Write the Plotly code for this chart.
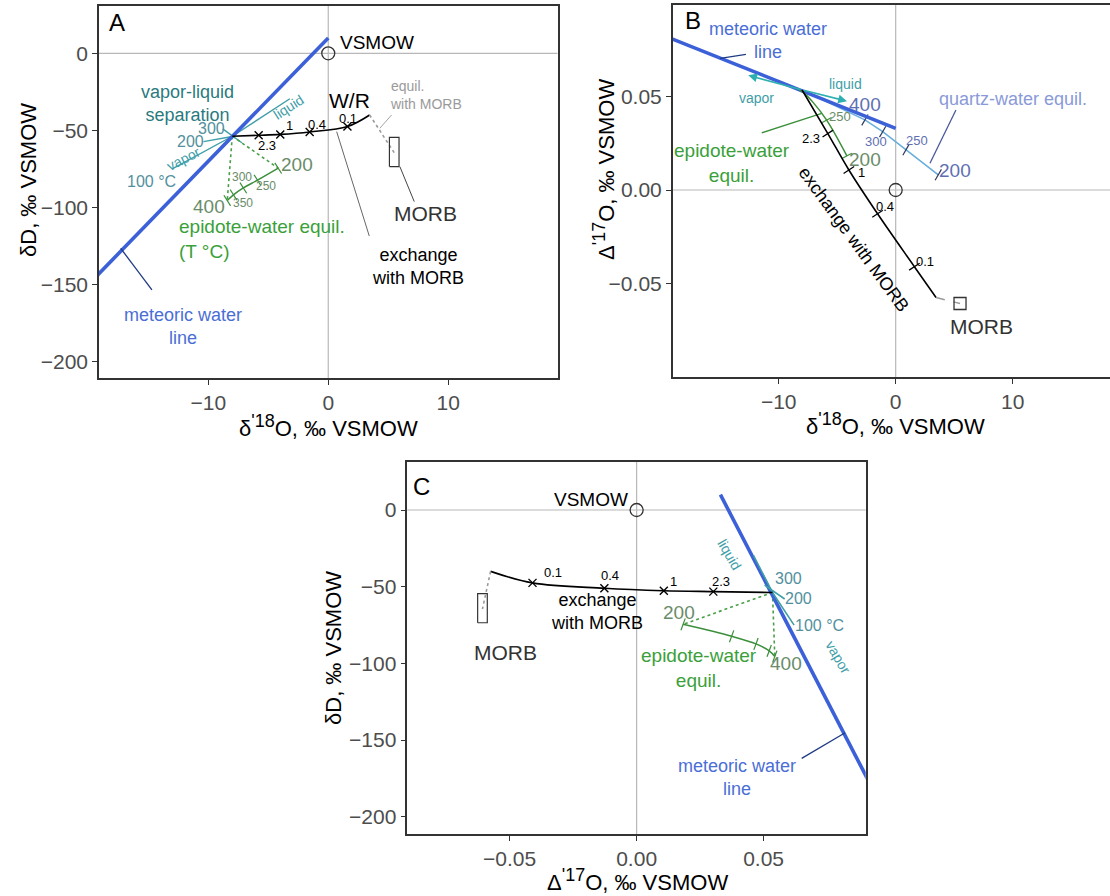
import plotly.graph_objects as go

# ---------------- data ----------------
# meteoric water line end members (δ'18O, δD, Δ'17O)
mwl_d18O = [-25.0, 0.0]
mwl_dD = [-190.0, 10.0]
mwl_D17O = [0.0955, 0.033]

# VSMOW
vsmow_d18O = [0.0]
vsmow_dD = [0.0]
vsmow_D17O = [0.0]

# exchange with MORB: starting meteoric water, W/R marks, end of path
wr_labels = ["2.3", "1", "0.4", "0.1"]
exch_d18O = [-8.0, -5.8, -4.0, -1.55, 1.6, 3.45]
exch_dD = [-53.8, -53.2, -52.6, -51.0, -47.5, -40.0]
exch_D17O = [0.0535, 0.0302, 0.0107, -0.0127, -0.041, -0.0575]

# MORB
morb_d18O = [5.5]
morb_dD = [-64.5]
morb_D17O = [-0.0607]
morb_d18O_range = [5.1, 5.9]
morb_dD_range = [-73.5, -54.5]
morb_D17O_range = [-0.0626, -0.0588]

# epidote-water equilibrium (T °C)
epi_T = [400, 350, 300, 250, 200]
epi_d18O = [-8.42, -7.9, -7.08, -5.9, -4.17]
epi_dD = [-95.5, -91.8, -87.3, -82.3, -74.5]
epi_D17O = [0.0544, 0.0522, 0.047, 0.0374, 0.0183]

# quartz-water equilibrium (T °C)
qtz_T = [400, 300, 250, 200]
qtz_d18O = [-2.63, -1.11, 0.88, 3.64]
qtz_D17O = [0.0375, 0.0312, 0.0215, 0.0081]

# vapor-liquid separation end members
liq_d18O, liq_dD, liq_D17O = -3.2, -29.5, 0.046
vap_d18O, vap_dD, vap_D17O = -13.0, -75.0, 0.062
sep300_d18O = [-8.8, -7.2]
sep300_dD = [-49.0, -58.0]
sep300_D17O = [0.0504, 0.0583]
sep200_d18O = [-10.4, -8.0]
sep200_dD = [-57.3, -54.0]

# axis ticks
dD_ticks = [0, -50, -100, -150, -200]
dD_ticktext = ["0", "\u221250", "\u2212100", "\u2212150", "\u2212200"]
d18O_ticks = [-10, 0, 10]
d18O_ticktext = ["\u221210", "0", "10"]
D17O_ticks_B = [-0.05, 0.0, 0.05]
D17O_ticktext_B = ["\u22120.05", "0.00", "0.05"]
D17O_ticks_C = [-0.05, 0.0, 0.05]
D17O_ticktext_C = ["\u22120.05", "0.00", "0.05"]

# ---------------- styling ----------------
W, H = 1110, 896
FONT = "Liberation Sans, Arial, sans-serif"
MWL_BLUE = "#3b60d8"
MWL_TEXT = "#4a6ed6"
NAVY = "#1e3a82"
TEAL = "#3f9ea8"
TEAL_TEXT = "#2a7a80"
TEAL_NUM = "#52909e"
GREEN = "#3b8f3b"
GREEN_TEXT = "#3aa03a"
GREEN_NUM = "#6a8c6a"
QTZ = "#6aaedc"
QTZ_TEXT = "#8a9ad8"
QTZ_NUM = "#5f70b2"
GRAY = "#9a9a9a"
ZERO = "#b8b8b8"
AX = "#333333"

fig = go.Figure()


def line(x, y, ax, color, width=1.2, dash=None, shape="linear"):
    fig.add_trace(go.Scatter(
        x=x, y=y, mode="lines", xaxis=ax[0], yaxis=ax[1],
        line=dict(color=color, width=width, dash=dash, shape=shape),
        hoverinfo="skip", showlegend=False))


def marks(x, y, ax, symbol, color, size=9, width=1.3, angle=0):
    fig.add_trace(go.Scatter(
        x=x, y=y, mode="markers", xaxis=ax[0], yaxis=ax[1],
        marker=dict(symbol=symbol, size=size, angle=angle, color=color,
                    line=dict(color=color, width=width)),
        hoverinfo="skip", showlegend=False))


def label(text, x, y, ax, size=14, color="black", angle=0, xanchor="center",
          align="center"):
    fig.add_annotation(x=x, y=y, xref=ax[0], yref=ax[1], text=text,
                       showarrow=False, textangle=angle, xanchor=xanchor,
                       align=align, font=dict(family=FONT, size=size, color=color))


A = ("x", "y")
B = ("x2", "y2")
C = ("x3", "y3")

# zero reference lines
for ax, xr, yr in [(A, (-19.2, 19.2), (-215, 35)), (B, (-19.2, 19), (-0.11, 0.11)),
                   (C, (-0.1, 0.1), (-215, 35))]:
    line([0, 0], list(yr), ax, ZERO, 1.2)
    line(list(xr), [0, 0], ax, ZERO, 1.2)

# ================= panel A: δ'18O vs δD =================
start_A = (exch_d18O[0], exch_dD[0])
# vapor-liquid separation
line([start_A[0], liq_d18O], [start_A[1], liq_dD], A, TEAL, 1.4)
line([start_A[0], vap_d18O], [start_A[1], vap_dD], A, TEAL, 1.4)
line(sep300_d18O, sep300_dD, A, TEAL, 1.4)
line(sep200_d18O, sep200_dD, A, TEAL, 1.4)
# epidote-water
line([start_A[0], epi_d18O[0]], [start_A[1], epi_dD[0]], A, "#4aa04a", 1.6, "dot")
line([start_A[0], epi_d18O[-1]], [start_A[1], epi_dD[-1]], A, "#4aa04a", 1.6, "dot")
line(epi_d18O, epi_dD, A, GREEN, 1.5, shape="spline")
marks(epi_d18O, epi_dD, A, "line-ns", GREEN, 9, 1.2, -32)
# meteoric water line
line(mwl_d18O, mwl_dD, A, MWL_BLUE, 3.6)
line([-17.3, -14.7], [-126.5, -153.5], A, NAVY, 1.3)
# exchange with MORB
line(exch_d18O, exch_dD, A, "black", 1.6, shape="spline")
marks(exch_d18O[1:5], exch_dD[1:5], A, "x-thin", "black", 8, 1.4)
line([exch_d18O[-1], morb_d18O[0]], [exch_dD[-1], morb_dD[0]], A, GRAY, 1.6, "dot")
line([morb_d18O_range[0], morb_d18O_range[1], morb_d18O_range[1], morb_d18O_range[0],
      morb_d18O_range[0]],
     [morb_dD_range[0], morb_dD_range[0], morb_dD_range[1], morb_dD_range[1],
      morb_dD_range[0]], A, AX, 1.2)
line([5.97, 7.17], [-73.5, -96.2], A, "#444444", 1.0)
line([0.7, 3.42], [-50.8, -118.5], A, "#555555", 0.9)
line([5.28, 4.3], [-40.0, -48.6], A, GRAY, 0.9)
marks(vsmow_d18O, vsmow_dD, A, "circle-open", AX, 13, 1.3)

label("A", -17.6, 20.3, A, 24)
label("VSMOW", 0.83, 7.1, A, 19, xanchor="left")
label("vapor-liquid<br>separation", -11.7, -32.4, A, 18, TEAL_TEXT)
label("liquid", -3.3, -34.6, A, 14, TEAL, -33)
label("vapor", -12.1, -68.7, A, 14, TEAL, -27)
label("300", -9.7, -48.6, A, 16, TEAL_NUM)
label("200", -11.5, -57.3, A, 16, TEAL_NUM)
label("100 \u00b0C", -14.7, -83.3, A, 16, TEAL_NUM)
label("W/R", 1.8, -30.3, A, 21)
for t, x, y in zip(wr_labels, [-5.1, -3.2, -0.9, 1.67], [-59.9, -47.0, -46.0, -42.2]):
    label(t, x, y, A, 13)
label("equil.<br>with MORB", 5.0, -27.2, A, 14, GRAY, xanchor="left", align="left")
label("MORB", 8.1, -104.2, A, 21, AX)
label("exchange<br>with MORB", 7.5, -138.6, A, 18)
label("200", -2.6, -72.4, A, 19, GREEN_NUM)
label("400", -9.9, -99.5, A, 19, GREEN_NUM)
label("300", -7.2, -80.4, A, 12, GREEN_NUM)
label("250", -5.2, -85.9, A, 12, GREEN_NUM)
label("350", -7.1, -97.3, A, 12, GREEN_NUM)
label("epidote-water equil.<br>(T \u00b0C)", -12.6, -120.3, A, 19, GREEN_TEXT,
      xanchor="left", align="left")
label("meteoric water<br>line", -12.1, -177.0, A, 18, MWL_TEXT)

# ================= panel B: δ'18O vs Δ'17O =================
start_B = (exch_d18O[0], exch_D17O[0])
line([start_B[0]] + qtz_d18O, [start_B[1]] + qtz_D17O, B, QTZ, 1.6)
marks(qtz_d18O, qtz_D17O, B, "line-ns", "#2c3a60", 9, 1.2, 30)
line(mwl_d18O, mwl_D17O, B, MWL_BLUE, 3.6)
line([-15.0, -12.8], [0.0704, 0.0725], B, NAVY, 1.3)
line(epi_d18O, epi_D17O, B, GREEN, 1.5, shape="spline")
marks(epi_d18O[3:], epi_D17O[3:], B, "line-ns", GREEN, 8, 1.2, 62)
line([-11.45, -6.32], [0.0306, 0.041], B, GREEN, 1.3)
line(exch_d18O, exch_D17O, B, "black", 1.6, shape="spline")
marks(exch_d18O[1:5], exch_D17O[1:5], B, "line-ew", "black", 9, 1.3, -33)
line([exch_d18O[-1], morb_d18O[0]], [exch_D17O[-1], morb_D17O[0]], B, GRAY, 1.4, "dash")
marks(morb_d18O, morb_D17O, B, "square-open", AX, 12, 1.3)
marks(vsmow_d18O, vsmow_D17O, B, "circle-open", AX, 13, 1.3)
line([5.15, 2.93], [0.0428, 0.0143], B, "#4a5a9a", 1.3)
# direction arrows toward the liquid and vapor end members
for end, frac in [((liq_d18O, liq_D17O), 0.8), ((vap_d18O, vap_D17O), 0.92)]:
    tip_x = start_B[0] + frac * (end[0] - start_B[0])
    tip_y = start_B[1] + frac * (end[1] - start_B[1])
    fig.add_annotation(x=tip_x, y=tip_y, ax=start_B[0], ay=start_B[1],
                       xref="x2", yref="y2", axref="x2", ayref="y2", text="",
                       showarrow=True, arrowhead=2, arrowsize=1.1, arrowwidth=1.6,
                       arrowcolor="#2fb0b0")

label("B", -17.3, 0.0909, B, 24)
label("meteoric water<br>line", -10.9, 0.0802, B, 18, MWL_TEXT)
label("liquid", -4.25, 0.0567, B, 14, TEAL)
label("vapor", -11.9, 0.049, B, 14, TEAL)
label("400", -2.62, 0.0455, B, 19, QTZ_NUM)
label("300", -1.68, 0.0262, B, 13, QTZ_NUM)
label("250", 1.8, 0.0267, B, 13, QTZ_NUM)
label("200", 5.07, 0.0103, B, 19, QTZ_NUM)
label("quartz-water equil.", 10.0, 0.0487, B, 18, QTZ_TEXT)
label("250", -4.76, 0.0392, B, 13, GREEN_NUM)
label("200", -2.62, 0.0164, B, 19, GREEN_NUM)
label("epidote-water<br>equil.", -14.0, 0.0147, B, 19, GREEN_TEXT)
for t, x, y in zip(wr_labels, [-7.26, -2.9, -0.91, 2.5], [0.0278, 0.0096, -0.0089, -0.038]):
    label(t, x, y, B, 13)
label("exchange with MORB", -3.6, -0.0262, B, 18, angle=54)
label("MORB", 7.35, -0.0731, B, 21, AX)

# ================= panel C: Δ'17O vs δD =================
start_C = (exch_D17O[0], exch_dD[0])
line([start_C[0], epi_D17O[0]], [start_C[1], epi_dD[0]], C, "#4aa04a", 1.6, "dot")
line([start_C[0], epi_D17O[-1]], [start_C[1], epi_dD[-1]], C, "#4aa04a", 1.6, "dot")
line(epi_D17O, epi_dD, C, GREEN, 1.5, shape="spline")
marks(epi_D17O, epi_dD, C, "line-ns", GREEN, 9, 1.2, 20)
line(mwl_D17O, mwl_dD, C, MWL_BLUE, 3.6)
line([0.0821, 0.065], [-145.2, -161.9], C, NAVY, 1.3)
line([start_C[0], liq_D17O], [start_C[1], liq_dD], C, TEAL, 1.6)
line([start_C[0], vap_D17O], [start_C[1], vap_dD], C, TEAL, 1.6)
line(sep300_D17O, sep300_dD, C, TEAL, 1.6)
line(exch_D17O, exch_dD, C, "black", 1.6, shape="spline")
marks(exch_D17O[1:5], exch_dD[1:5], C, "x-thin", "black", 8, 1.4)
line([exch_D17O[-1], morb_D17O[0]], [exch_dD[-1], morb_dD[0]], C, GRAY, 1.6, "dot")
line([morb_D17O_range[0], morb_D17O_range[1], morb_D17O_range[1], morb_D17O_range[0],
      morb_D17O_range[0]],
     [morb_dD_range[0], morb_dD_range[0], morb_dD_range[1], morb_dD_range[1],
      morb_dD_range[0]], C, AX, 1.2)
marks(vsmow_D17O, vsmow_dD, C, "circle-open", AX, 13, 1.3)

label("C", -0.0846, 15.2, C, 24)
label("VSMOW", -0.0025, 7.0, C, 19, xanchor="right")
label("liquid", 0.0367, -29.3, C, 14, TEAL, 60)
label("vapor", 0.0794, -95.6, C, 14, TEAL, 60)
label("300", 0.0597, -44.5, C, 16, TEAL_NUM)
label("200", 0.0636, -57.6, C, 16, TEAL_NUM)
label("100 \u00b0C", 0.0722, -75.4, C, 16, TEAL_NUM)
for t, x, y in zip(wr_labels, [0.0331, 0.0147, -0.0105, -0.0329],
                   [-46.6, -46.6, -42.6, -41.0]):
    label(t, x, y, C, 13)
label("exchange<br>with MORB", -0.0156, -65.9, C, 18)
label("MORB", -0.0516, -93.0, C, 21, AX)
label("200", 0.0167, -66.7, C, 19, GREEN_NUM)
label("400", 0.059, -100.0, C, 19, GREEN_NUM)
label("epidote-water<br>equil.", 0.0246, -103.2, C, 19, GREEN_TEXT)
label("meteoric water<br>line", 0.0395, -174.4, C, 18, MWL_TEXT)

# ---------------- axes ----------------
def px_x(p):
    return p / W


def px_y(p):
    return 1 - p / H


common = dict(showgrid=False, zeroline=False, showline=True, linecolor=AX,
              linewidth=1.5, ticks="outside", ticklen=5, tickcolor=AX,
              tickwidth=1.2, tickfont=dict(family=FONT, size=21, color="#4d4d4d"))

fig.update_layout(
    width=W, height=H, margin=dict(l=0, r=0, t=0, b=0),
    paper_bgcolor="white", plot_bgcolor="white", showlegend=False,
    xaxis=dict(common, domain=[px_x(99), px_x(557.5)], range=[-19.11, 19.11],
               tickvals=d18O_ticks, ticktext=d18O_ticktext, mirror=True, anchor="y"),
    yaxis=dict(common, domain=[px_y(378), px_y(5.5)], range=[-210.6, 31.0],
               tickvals=dD_ticks, ticktext=dD_ticktext, mirror=True, anchor="x"),
    xaxis2=dict(common, domain=[px_x(672.7), 1.0], range=[-19.06, 18.32],
                tickvals=d18O_ticks, ticktext=d18O_ticktext, mirror=True, anchor="y2"),
    yaxis2=dict(common, domain=[px_y(377), px_y(4.7)], range=[-0.1, 0.0991],
                tickvals=D17O_ticks_B, ticktext=D17O_ticktext_B, anchor="x2"),
    xaxis3=dict(common, domain=[px_x(407.3), px_x(865.7)], range=[-0.0903, 0.0902],
                tickvals=D17O_ticks_C, ticktext=D17O_ticktext_C, mirror=True, anchor="y3"),
    yaxis3=dict(common, domain=[px_y(834.3), px_y(461.7)], range=[-211.4, 31.5],
                tickvals=dD_ticks, ticktext=dD_ticktext, mirror=True, anchor="x3"),
)

# axis titles
TITLE = dict(family=FONT, size=22, color="black")
SUP = "<sup><span style='font-size:18px'>'{}</span></sup>"
titles = [
    ("\u03b4" + SUP.format("18") + "O, \u2030 VSMOW", 328, 426, 0),
    ("\u03b4D, \u2030 VSMOW", 28, 180, -90),
    ("\u03b4" + SUP.format("18") + "O, \u2030 VSMOW", 895, 424, 0),
    ("\u0394" + SUP.format("17") + "O, \u2030 VSMOW", 604, 170, -90),
    ("\u0394" + SUP.format("17") + "O, \u2030 VSMOW", 637, 880, 0),
    ("\u03b4D, \u2030 VSMOW", 333, 648, -90),
]
for text, x, y, ang in titles:
    fig.add_annotation(x=px_x(x), y=px_y(y), xref="paper", yref="paper", text=text,
                       showarrow=False, textangle=ang, font=TITLE,
                       xanchor="center", yanchor="middle")

fig.write_html("out.html")
